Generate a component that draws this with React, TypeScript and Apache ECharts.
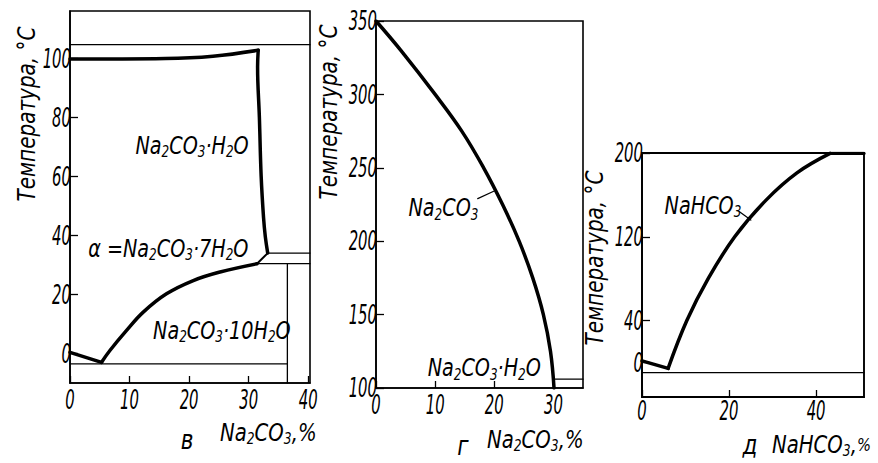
import React, { useEffect, useRef } from "react";
import * as echarts from "echarts";

const F = "'DejaVu Sans', sans-serif";
const INK = "#000000";

// ---- panel в: Na2CO3 – H2O, low temperature ----
const vXTicks = [0, 10, 20, 30, 40];
const vYTicks = [0, 20, 40, 60, 80, 100];
const vBoilCurve = [[0, 99.7], [16, 99.9], [24, 100.7], [31.6, 102.7]];
const vMonohydrate = [[31.6, 102.7], [31.5, 97], [31.8, 80], [32.1, 60], [32.5, 46], [32.8, 39.5], [33.2, 34]];
const vHeptahydrate = [[31.4, 30.4], [33.2, 34]];
const vDecahydrate = [[5.3, -3], [6.7, 1], [9.5, 7.8], [12.3, 14], [16.2, 20.2], [20.7, 24.7], [25.2, 27.6], [31.4, 30.4]];
const vIce = [[0, 0.4], [5.3, -3]];
const vBoilLine = [[0, 104.6], [40.3, 104.6]];
const vTrans1 = [[33.2, 34], [40.3, 34]];
const vTrans2 = [[31.4, 30.4], [40.3, 30.4]];
const vDecaComp = [[36.5, -10], [36.5, 30.4]];
const vEutectic = [[0, -3.5], [36.5, -3.5]];

// ---- panel г: Na2CO3 – H2O, high temperature ----
const gXTicks = [0, 10, 20, 30];
const gYTicks = [100, 150, 200, 250, 300, 350];
const gAnhydrous = [[0, 350], [4.2, 330], [10, 300], [14.5, 275], [18.2, 250], [21.4, 225], [24.2, 200], [26.5, 175], [28.3, 150], [29.5, 125], [30.1, 100]];
const gMonoLine = [[30, 106], [35, 106]];
const gLeader = [[17.2, 229], [19.9, 234]];

// ---- panel д: NaHCO3 – H2O ----
const dXTicks = [0, 20, 40];
const dYTicks = [0, 40, 120, 200];
const dBicarb = [[6, -5.7], [10.3, 40], [15.2, 80], [21.3, 120], [28.5, 155], [35.6, 181], [43.2, 199.6]];
const dTop = [[43.2, 199.6], [51, 199.6]];
const dIce = [[0, 1.5], [6, -5.7]];
const dEutectic = [[0, -9.8], [51, -9.8]];
const dLeader = [[22.4, 144], [25, 136]];

// annotation texts
const Y_TITLE = "Температура, °C";
const NOTE_V1 = "{m|Na}{s|2}{m|CO}{s|3}{m|·H}{s|2}{m|O}";
const NOTE_V2 = "{m|α =Na}{s|2}{m|CO}{s|3}{m|·7H}{s|2}{m|O}";
const NOTE_V3 = "{m|Na}{s|2}{m|CO}{s|3}{m|·10H}{s|2}{m|O}";
const NOTE_G1 = "{m|Na}{s|2}{m|CO}{s|3}";
const NOTE_G2 = "{m|Na}{s|2}{m|CO}{s|3}{m|·H}{s|2}{m|O}";
const NOTE_D1 = "{m|NaHCO}{s|3}";
const XNAME_NA2CO3 = "{m|Na}{s|2}{m|CO}{s|3}{m|,%}";
const XNAME_NAHCO3 = "{m|NaHCO}{s|3}{m|,}{p|%}";

const rich = (size: number) => ({
  m: { fontSize: size, fontStyle: "italic", fontFamily: F, fill: INK },
  p: { fontSize: Math.round(size * 0.75), fontStyle: "italic", fontFamily: F, fill: INK },
  s: { fontSize: Math.round(size * 0.62), fontStyle: "italic", fontFamily: F, fill: INK, padding: [Math.round(size * 0.5), 0, 0, 0] },
});

function xAxis(grid: number, min: number, max: number, ticks: number[]) {
  return {
    type: "value", gridIndex: grid, min, max,
    axisLine: { show: true, onZero: false, lineStyle: { color: INK, width: 1.6 } },
    axisTick: { show: true, inside: true, length: 7, customValues: ticks, lineStyle: { color: INK, width: 1.3 } },
    axisLabel: { show: false },
    splitLine: { show: false },
  };
}
function yAxis(grid: number, min: number, max: number, ticks: number[]) {
  return {
    type: "value", gridIndex: grid, min, max,
    axisLine: { show: true, onZero: false, lineStyle: { color: INK, width: 1.6 } },
    axisTick: { show: true, inside: true, length: 8, customValues: ticks, lineStyle: { color: INK, width: 1.3 } },
    axisLabel: { show: false },
    splitLine: { show: false },
  };
}
function line(idx: number, data: number[][], width: number, smooth: boolean | number = false) {
  return {
    type: "line", xAxisIndex: idx, yAxisIndex: idx, data, showSymbol: false, symbol: "none",
    smooth, silent: true,
    lineStyle: { color: INK, width, cap: "round", join: "round" }, z: 3,
  };
}

const GRIDS = [
  { left: 70, top: 11, width: 240, height: 372 },
  { left: 376, top: 21, width: 207, height: 367 },
  { left: 642, top: 153, width: 222, height: 244 },
];
const X_RANGES = [[0, 40.3], [0, 35], [0, 51]];
const Y_RANGES = [[-10, 116], [100, 350], [-33, 200]];

export default function App() {
  const ref = useRef<HTMLDivElement>(null);
  useEffect(() => {
    document.body.style.margin = "0";
    const chart = echarts.init(ref.current!, null, { renderer: "svg" });
    chart.setOption({
      animation: false,
      backgroundColor: "#ffffff",
      grid: GRIDS.map((g, i) => ({ ...g, show: true, borderColor: INK, borderWidth: i === 2 ? 1.9 : 1.6, containLabel: false })),
      xAxis: [
        xAxis(0, X_RANGES[0][0], X_RANGES[0][1], vXTicks),
        xAxis(1, X_RANGES[1][0], X_RANGES[1][1], gXTicks),
        xAxis(2, X_RANGES[2][0], X_RANGES[2][1], dXTicks),
      ],
      yAxis: [
        yAxis(0, Y_RANGES[0][0], Y_RANGES[0][1], vYTicks),
        yAxis(1, Y_RANGES[1][0], Y_RANGES[1][1], gYTicks),
        yAxis(2, Y_RANGES[2][0], Y_RANGES[2][1], dYTicks),
      ],
      series: [
        line(0, vBoilCurve, 3.5, 0.4),
        line(0, vMonohydrate, 3.5, 0.4),
        line(0, vHeptahydrate, 2),
        line(0, vDecahydrate, 3.5, 0.4),
        line(0, vIce, 3.5),
        line(0, vBoilLine, 1.3),
        line(0, vTrans1, 1.3),
        line(0, vTrans2, 1.3),
        line(0, vDecaComp, 1.3),
        line(0, vEutectic, 1.3),

        line(1, gAnhydrous, 3.5, 0.4),
        line(1, gMonoLine, 1.3),
        line(1, gLeader, 1.2),

        line(2, dBicarb, 3.5, 0.4),
        line(2, dTop, 3.2),
        line(2, dIce, 3.5),
        line(2, dEutectic, 1.3),
        line(2, dLeader, 1.2),
      ],
    });

    const px = (g: number, x: number, y: number) => chart.convertToPixel({ gridIndex: g } as any, [x, y]) as number[];
    const graphics: any[] = [];

    // tick labels (condensed italic digits, placed through the axis scales)
    const tickSets: [number, number[], number[]][] = [
      [0, vXTicks, vYTicks],
      [1, gXTicks, gYTicks],
      [2, dXTicks, dYTicks],
    ];
    const xLabelDrop = [17, 17, 14];
    tickSets.forEach(([g, xs, ys]) => {
      xs.forEach((v) => {
        const p = px(g, v, Y_RANGES[g][0]);
        graphics.push({
          type: "text", x: p[0], y: p[1] + xLabelDrop[g], scaleX: 0.55,
          style: { text: String(v), fontSize: 27, fontStyle: "italic", fontFamily: F, fill: INK, align: "center", verticalAlign: "middle" },
        });
      });
      ys.forEach((v) => {
        const p = px(g, X_RANGES[g][0], v);
        graphics.push({
          type: "text", x: p[0] + 1, y: p[1], scaleX: 0.55,
          style: { text: String(v), fontSize: 27, fontStyle: "italic", fontFamily: F, fill: INK, align: "right", verticalAlign: "middle" },
        });
      });
    });

    // notes inside the panels
    const notes: [number, number, number, string][] = [
      [0, 20.5, 70.5, NOTE_V1],
      [0, 16.5, 35.6, NOTE_V2],
      [0, 25.5, 7.8, NOTE_V3],
      [1, 11.4, 222.6, NOTE_G1],
      [1, 18.3, 113.6, NOTE_G2],
      [2, 14, 150, NOTE_D1],
    ];
    notes.forEach(([g, x, y, t]) => {
      const p = px(g, x, y);
      graphics.push({
        type: "text", x: p[0], y: p[1], scaleX: 0.8,
        style: { text: t, rich: rich(24), fontSize: 24, fontFamily: F, fill: INK, align: "center", verticalAlign: "middle" },
      });
    });

    // axis titles
    [[26, 114], [328, 112], [594, 258]].forEach(([x, y]) => {
      graphics.push({
        type: "text", x, y, rotation: Math.PI / 2, scaleX: 0.8,
        style: { text: Y_TITLE, fontSize: 25, fontStyle: "italic", fontFamily: F, fill: INK, align: "center", verticalAlign: "middle" },
      });
    });
    [[220, 433, XNAME_NA2CO3], [487, 440, XNAME_NA2CO3], [772, 445, XNAME_NAHCO3]].forEach(([x, y, t]) => {
      graphics.push({
        type: "text", x, y, scaleX: 0.82,
        style: { text: t, rich: rich(24), fontSize: 24, fontFamily: F, fill: INK, align: "left", verticalAlign: "middle" },
      });
    });
    [[187, 440, "в"], [463, 446, "г"], [750, 445, "д"]].forEach(([x, y, t]) => {
      graphics.push({
        type: "text", x, y, scaleX: 0.8,
        style: { text: t, fontSize: 27, fontStyle: "italic", fontFamily: F, fill: INK, align: "center", verticalAlign: "middle" },
      });
    });

    chart.setOption({ graphic: graphics });
    return () => chart.dispose();
  }, []);
  return <div ref={ref} style={{ width: 878, height: 463 }} />;
}
